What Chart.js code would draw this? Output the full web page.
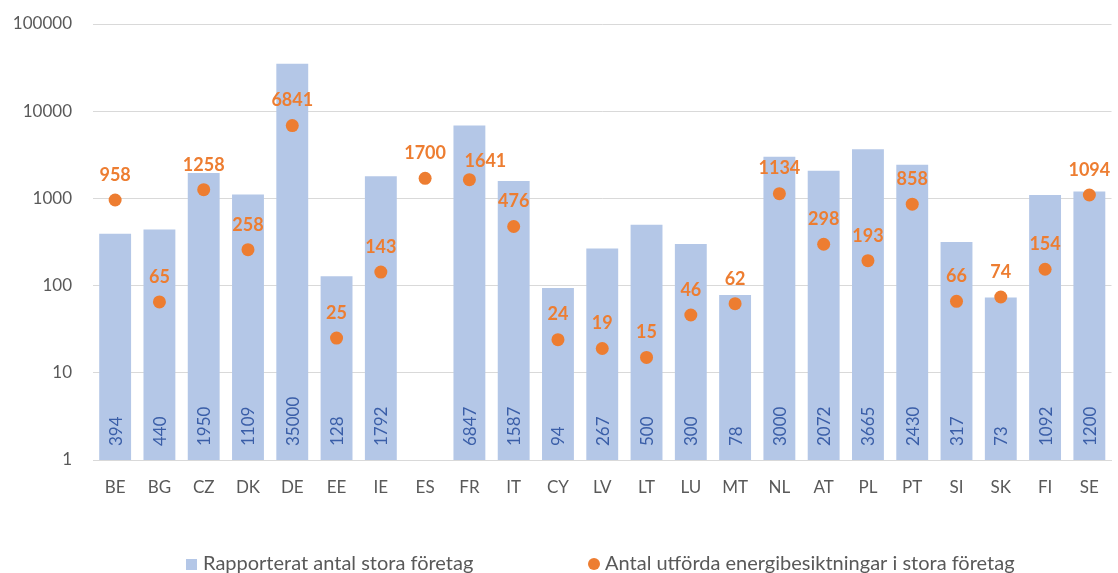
<!DOCTYPE html>
<html lang="sv">
<head>
<meta charset="utf-8">
<title>Stora företag och energibesiktningar</title>
<script src="https://cdn.jsdelivr.net/npm/chart.js@4.4.1/dist/chart.umd.min.js"></script>
<style>
  html, body { margin: 0; padding: 0; background: #ffffff; }
  #wrap { width: 1118px; height: 573px; position: relative; }
</style>
</head>
<body>
<div id="wrap"><canvas id="chart"></canvas></div>
<script>
// Medlemsstater
const countries = ['BE','BG','CZ','DK','DE','EE','IE','ES','FR','IT','CY','LV','LT','LU','MT','NL','AT','PL','PT','SI','SK','FI','SE'];

// Rapporterat antal stora företag (ES saknar uppgift)
const largeCompanies = [394, 440, 1950, 1109, 35000, 128, 1792, null, 6847, 1587, 94, 267, 500, 300, 78, 3000, 2072, 3665, 2430, 317, 73, 1092, 1200];

// Antal utförda energibesiktningar i stora företag
const audits = [958, 65, 1258, 258, 6841, 25, 143, 1700, 1641, 476, 24, 19, 15, 46, 62, 1134, 298, 193, 858, 66, 74, 154, 1094];

// Skalans steg (tiopotenser)
const yTicks = [1, 10, 100, 1000, 10000, 100000];

const seriesNames = ['Rapporterat antal stora företag', 'Antal utförda energibesiktningar i stora företag'];

const BAR_COLOR = '#B4C7E7';
const BAR_TEXT = '#3A5EA8';
const POINT_COLOR = '#ED7D31';
const AXIS_TEXT = '#595959';
const GRID = '#D9D9D9';
const FONT = 'Lato, "Open Sans", "DejaVu Sans", sans-serif';

// Etiketter som flyttas åt sidan för att inte krocka med grannen (dx, dy i px)
const POINT_LABEL_NUDGE = { FR: [16, 7] };

// Värdeetiketter: staplarnas värden lodrätt vid basen, punkternas värden ovanför
const valueLabels = {
  id: 'valueLabels',
  afterDatasetsDraw(chart) {
    const ctx = chart.ctx;
    const yScale = chart.scales.y;
    const barMeta = chart.getDatasetMeta(0);
    ctx.save();
    ctx.font = '17px ' + FONT;
    ctx.fillStyle = BAR_TEXT;
    ctx.textAlign = 'left';
    ctx.textBaseline = 'middle';
    barMeta.data.forEach((el, i) => {
      const v = largeCompanies[i];
      if (v == null) return;
      ctx.save();
      ctx.translate(el.x + 1, yScale.bottom - 14);
      ctx.rotate(-Math.PI / 2);
      ctx.fillText(String(v), 0, 0);
      ctx.restore();
    });
    const ptMeta = chart.getDatasetMeta(1);
    ctx.font = 'bold 18px ' + FONT;
    ctx.fillStyle = POINT_COLOR;
    ctx.textAlign = 'center';
    ctx.textBaseline = 'middle';
    ptMeta.data.forEach((el, i) => {
      const v = audits[i];
      if (v == null) return;
      const [dx, dy] = POINT_LABEL_NUDGE[countries[i]] || [0, 0];
      ctx.fillText(String(v), el.x + dx, el.y - 25 + dy);
    });
    ctx.restore();
  }
};

// Förklaring under diagrammet
const bottomLegend = {
  id: 'bottomLegend',
  afterDraw(chart) {
    const ctx = chart.ctx;
    const y = 564;
    ctx.save();
    ctx.font = '20px ' + FONT;
    ctx.textAlign = 'left';
    ctx.textBaseline = 'middle';
    // stapelserie
    ctx.fillStyle = BAR_COLOR;
    ctx.fillRect(186, y - 5, 11, 11);
    ctx.fillStyle = AXIS_TEXT;
    ctx.fillText(seriesNames[0], 203, y);
    // punktserie
    ctx.fillStyle = POINT_COLOR;
    ctx.beginPath();
    ctx.arc(594, y, 6, 0, Math.PI * 2);
    ctx.fill();
    ctx.fillStyle = AXIS_TEXT;
    ctx.fillText(seriesNames[1], 605, y);
    ctx.restore();
  }
};

new Chart(document.getElementById('chart'), {
  type: 'bar',
  data: {
    labels: countries,
    datasets: [
      {
        type: 'bar',
        label: seriesNames[0],
        data: largeCompanies,
        backgroundColor: BAR_COLOR,
        borderWidth: 0,
        categoryPercentage: 1.0,
        barPercentage: 0.72,
        order: 2
      },
      {
        type: 'line',
        label: seriesNames[1],
        data: audits,
        showLine: false,
        pointRadius: 6.5,
        pointHoverRadius: 6.5,
        pointBackgroundColor: POINT_COLOR,
        pointBorderWidth: 0,
        borderColor: POINT_COLOR,
        backgroundColor: POINT_COLOR,
        order: 1
      }
    ]
  },
  options: {
    responsive: true,
    maintainAspectRatio: false,
    animation: false,
    layout: { padding: { top: 24, right: 1, left: 0, bottom: 0 } },
    plugins: {
      legend: { display: false },
      tooltip: { enabled: false }
    },
    scales: {
      x: {
        offset: true,
        grid: { display: false, drawTicks: false },
        border: { display: true, color: GRID, width: 1 },
        ticks: {
          color: AXIS_TEXT,
          font: { family: FONT, size: 17 },
          padding: 17,
          maxRotation: 0,
          autoSkip: false
        },
        afterFit(scale) { scale.height = 113; }
      },
      y: {
        type: 'logarithmic',
        min: 1,
        max: 100000,
        // osynliga streck ger avståndet mellan etiketter och rutnät
        grid: { color: GRID, lineWidth: 1, drawTicks: true, tickLength: 21, tickColor: 'rgba(0,0,0,0)' },
        border: { display: false },
        ticks: {
          color: AXIS_TEXT,
          font: { family: FONT, size: 17 },
          padding: 0,
          callback: (v) => String(v)
        },
        afterBuildTicks(scale) {
          scale.ticks = yTicks.map(v => ({ value: v, major: true }));
        },
        afterFit(scale) { scale.width = 93; }
      }
    }
  },
  plugins: [valueLabels, bottomLegend]
});
</script>
</body>
</html>
